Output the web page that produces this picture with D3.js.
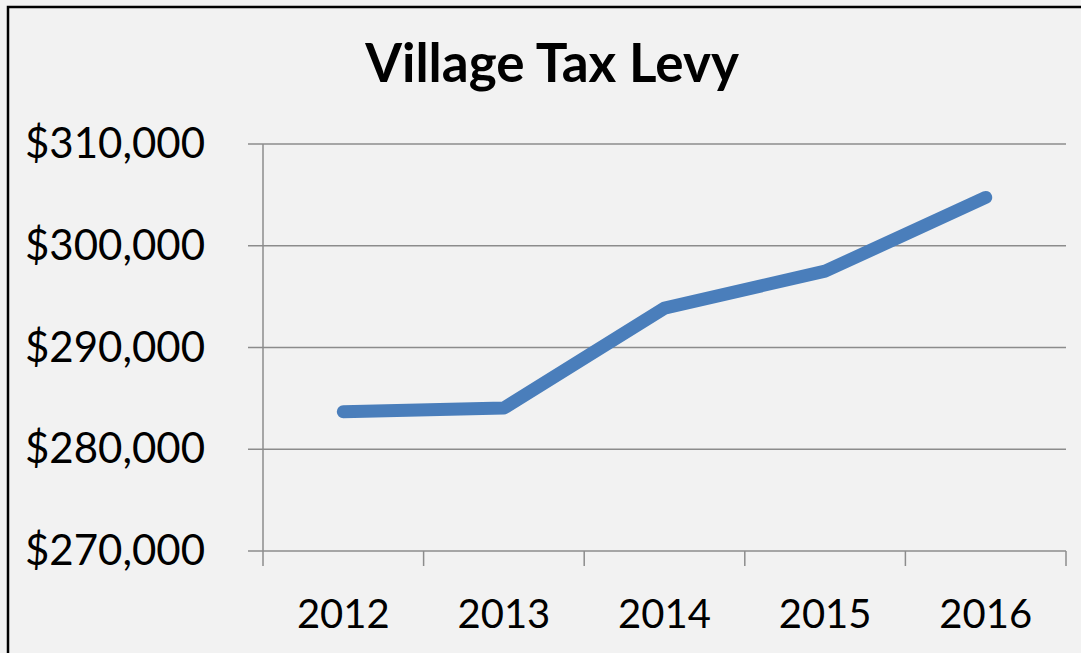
<!DOCTYPE html>
<html>
<head>
<meta charset="utf-8">
<script src="https://cdn.jsdelivr.net/npm/d3@7"></script>
<style>
  html, body { margin: 0; padding: 0; background: #f2f2f2; }
  svg { display: block; }
  text { font-family: Lato, "Open Sans", sans-serif; fill: #000; }
</style>
</head>
<body>
<svg id="chart" width="1081" height="653"></svg>
<script>
const years = ["2012", "2013", "2014", "2015", "2016"];
const levy = [283680, 284050, 293870, 297500, 304750];
const yTicks = [270000, 280000, 290000, 300000, 310000];
const title = "Village Tax Levy";

const W = 1081, H = 653;
const svg = d3.select("#chart");

svg.append("rect").attr("x", 0).attr("y", 0).attr("width", W).attr("height", H).attr("fill", "#f2f2f2");
svg.append("rect").attr("x", 8).attr("y", 7).attr("width", W + 20).attr("height", H + 20)
  .attr("fill", "none").attr("stroke", "#000").attr("stroke-width", 2.5);

const pLeft = 263, pRight = 1066, pTop = 144, pBottom = 551;

const x = d3.scaleBand().domain(years).range([pLeft, pRight]).padding(0);
const y = d3.scaleLinear().domain([270000, 310000]).range([pBottom, pTop]);

const grid = "#8c8c8c";

svg.append("g").selectAll("line").data(yTicks).join("line")
  .attr("x1", pLeft - 15).attr("x2", pRight)
  .attr("y1", d => y(d)).attr("y2", d => y(d))
  .attr("stroke", grid).attr("stroke-width", 1.5);

svg.append("line").attr("x1", pLeft).attr("x2", pLeft).attr("y1", pTop).attr("y2", pBottom + 15)
  .attr("stroke", grid).attr("stroke-width", 1.5);

const bounds = years.map(d => x(d) + x.bandwidth());
svg.append("g").selectAll("line").data(bounds).join("line")
  .attr("x1", d => d).attr("x2", d => d)
  .attr("y1", pBottom).attr("y2", pBottom + 15)
  .attr("stroke", grid).attr("stroke-width", 1.5);

const fmt = d3.format("$,.0f");
svg.append("g").selectAll("text").data(yTicks).join("text")
  .attr("x", 205).attr("y", d => y(d) + 14)
  .attr("text-anchor", "end").attr("font-size", 42)
  .text(d => fmt(d));

svg.append("g").selectAll("text").data(years).join("text")
  .attr("x", d => x(d) + x.bandwidth() / 2).attr("y", 628)
  .attr("text-anchor", "middle").attr("font-size", 40)
  .text(d => d);

svg.append("text").attr("x", 552).attr("y", 82).attr("text-anchor", "middle")
  .attr("font-size", 53).attr("font-weight", "bold").text(title);

const line = d3.line()
  .x((d, i) => x(years[i]) + x.bandwidth() / 2)
  .y(d => y(d));

svg.append("path").datum(levy).attr("d", line)
  .attr("fill", "none").attr("stroke", "#4a7ebb").attr("stroke-width", 13)
  .attr("stroke-linecap", "round").attr("stroke-linejoin", "round");
</script>
</body>
</html>
